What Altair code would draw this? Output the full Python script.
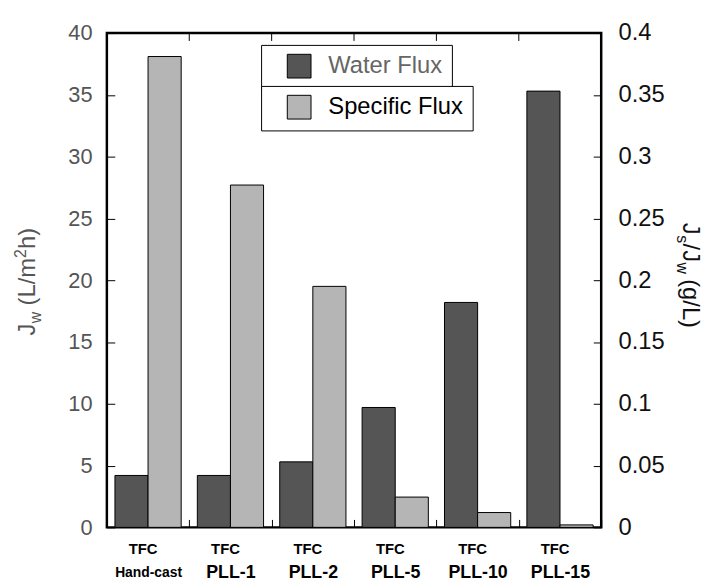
import altair as alt
import pandas as pd

# ---- data ----
categories = ["Hand-cast", "PLL-1", "PLL-2", "PLL-5", "PLL-10", "PLL-15"]
prefix = ["TFC", "TFC", "TFC", "TFC", "TFC", "TFC"]
water_flux = [4.2, 4.2, 5.3, 9.7, 18.2, 35.3]          # J_w (L/m2h), left axis
specific_flux = [0.381, 0.277, 0.195, 0.0245, 0.012, 0.002]  # Js/Jw (g/L), right axis
left_ticks = [0, 5, 10, 15, 20, 25, 30, 35, 40]
right_ticks = [0, 0.05, 0.1, 0.15, 0.2, 0.25, 0.3, 0.35, 0.4]
series_names = ["Water Flux", "Specific Flux"]

FONT = "Liberation Sans"
W, H = 500, 500
WATER_COLOR = "#555555"
SPEC_COLOR = "#b5b5b5"

water_df = pd.DataFrame({"cat": categories, "value": water_flux, "series": series_names[0]})
spec_df = pd.DataFrame({"cat": categories, "value": specific_flux, "series": series_names[1]})
label_df = pd.DataFrame({"cat": categories, "top": prefix})
one = pd.DataFrame({"k": [0]})

inward = {"expr": "-8"}

x_axis = alt.Axis(
    title=None, domain=False, grid=False, tickBand="extent", tickSize=inward,
    tickColor="black", tickWidth=1, labelPadding=54, labelBaseline="middle",
    labelAngle=0, labelAlign="center",
    labelFont=FONT, labelFontWeight="bold", labelColor="black",
    labelFontSize={"condition": {"test": "datum.value == 'Hand-cast'", "value": 14}, "value": 18},
)
x_scale = alt.Scale(paddingInner=0, paddingOuter=0)
x_enc = alt.X("cat:N", sort=categories, scale=x_scale, axis=x_axis)
xoff = alt.XOffset("series:N", sort=series_names,
                   scale=alt.Scale(domain=series_names, paddingInner=0, paddingOuter=0.244))


def legend(x, y, color):
    return alt.Legend(
        title=None, orient="none", legendX=x, legendY=y, fillColor="white",
        strokeColor="black", padding=9, symbolType="square", symbolSize=576,
        symbolStrokeColor="black", symbolStrokeWidth=1, symbolOffset=17,
        labelOffset=17, labelFontSize=24, labelFont=FONT, labelColor=color,
        labelLimit=400,
    )


water = alt.Chart(water_df).mark_bar(stroke="black", strokeWidth=1).encode(
    x=x_enc,
    xOffset=xoff,
    y=alt.Y("value:Q", scale=alt.Scale(domain=[0, 40], nice=False),
            axis=alt.Axis(title=None, orient="left", values=left_ticks, domain=False,
                          grid=False, tickSize=inward, tickColor="black", labelPadding=23,
                          labelFontSize=22, labelFont=FONT, labelColor="#555555")),
    fill=alt.Fill("series:N", scale=alt.Scale(domain=[series_names[0]], range=[WATER_COLOR]),
                  legend=legend(156, 12, "#666666")),
)

spec = alt.Chart(spec_df).mark_bar(stroke="black", strokeWidth=1).encode(
    x=x_enc,
    xOffset=xoff,
    y=alt.Y("value:Q", scale=alt.Scale(domain=[0, 0.4], nice=False),
            axis=alt.Axis(title=None, orient="right", values=right_ticks, format="~g",
                          domain=False, grid=False, tickSize=inward, tickColor="black",
                          labelPadding=25, labelFontSize=24, labelFont=FONT,
                          labelColor="#111111")),
    fill=alt.Fill("series:N", scale=alt.Scale(domain=[series_names[1]], range=[SPEC_COLOR]),
                  legend=legend(156, 53.5, "#000000")),
)

top_ticks = alt.Chart(label_df).mark_rule(color="black", strokeWidth=1).encode(
    x=alt.X("cat:N", sort=categories, scale=x_scale, axis=x_axis, bandPosition=0),
    y=alt.value(0), y2=alt.value(8),
)

tfc = alt.Chart(label_df).mark_text(font=FONT, fontWeight="bold", fontSize=15, dx=-5,
                                    baseline="middle", color="black").encode(
    x=x_enc, y=alt.value(H + 21.5), text="top:N",
)


def piece(text, size, dx, dy, x, y, angle, color):
    return alt.Chart(one).mark_text(
        text=text, fontSize=size, dx=dx, dy=dy, angle=angle, align="left",
        baseline="alphabetic", font=FONT, color=color,
    ).encode(x=alt.value(x), y=alt.value(y))


LC = "#555555"
lx, ly = -73, 306
left_title = [
    piece("J", 24, 0, 0, lx, ly, 270, LC),
    piece("w", 16, 12.5, 6, lx, ly, 270, LC),
    piece("(L/m", 24, 30.5, 0, lx, ly, 270, LC),
    piece("2", 16, 78.5, -9, lx, ly, 270, LC),
    piece("h)", 24, 87.5, 0, lx, ly, 270, LC),
]
RC = "#111111"
rx, ry = 583, 192
right_title = [
    piece("J", 24, 0, 0, rx, ry, 90, RC),
    piece("s", 16, 12.5, 6, rx, ry, 90, RC),
    piece("/J", 24, 21, 0, rx, ry, 90, RC),
    piece("w", 16, 40, 6, rx, ry, 90, RC),
    piece("(g/L)", 24, 57, 0, rx, ry, 90, RC),
]

chart = alt.layer(water, spec, top_ticks, tfc, *left_title, *right_title).resolve_scale(
    y="independent", fill="independent"
).properties(
    width=W, height=H,
    padding={"left": 100, "top": 22, "right": 105, "bottom": 58},
    autosize=alt.AutoSizeParams(type="none"),
).configure_view(stroke="black", strokeWidth=2.5)

chart.save("out.html", embed_options={"renderer": "svg", "actions": False})
